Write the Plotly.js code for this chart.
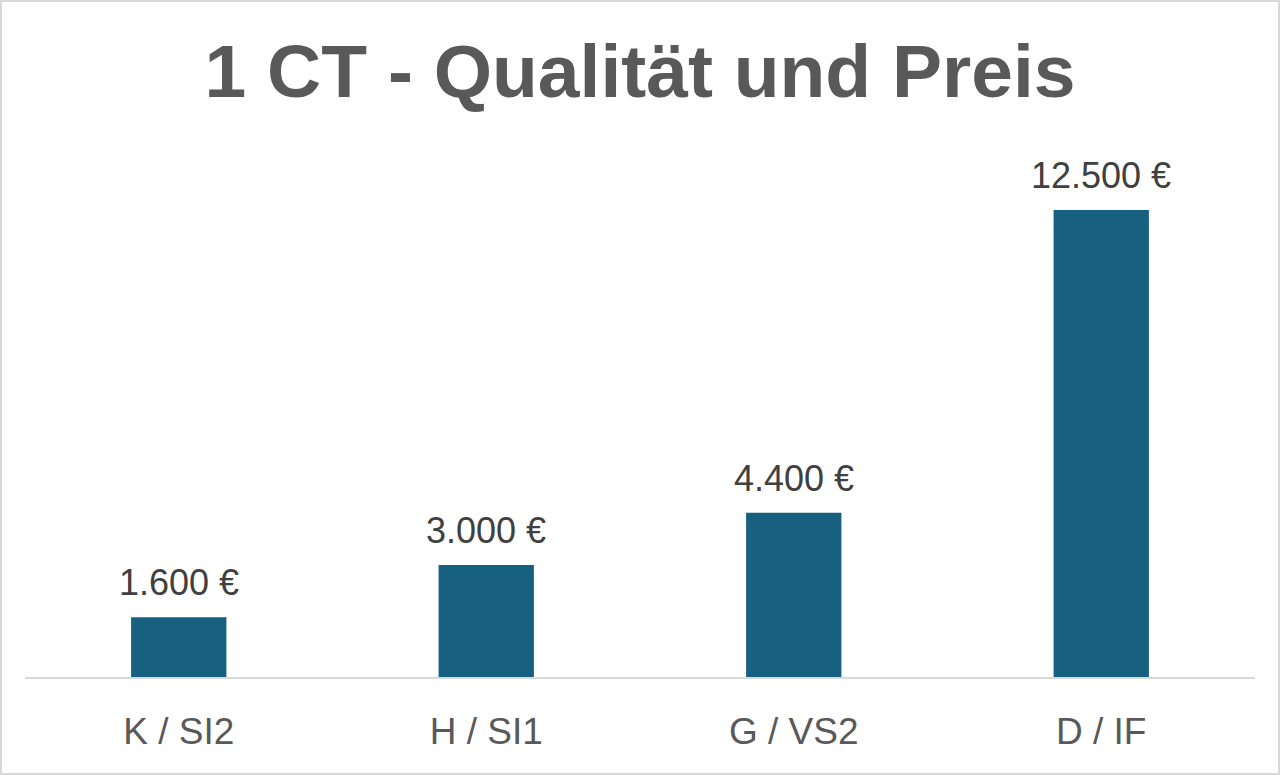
<!DOCTYPE html>
<html>
<head>
<meta charset="utf-8">
<script src="https://cdn.plot.ly/plotly-3.0.1.min.js"></script>
<style>
  html, body { margin: 0; padding: 0; background: #fff; }
  #chart { width: 1280px; height: 775px; box-sizing: border-box; border: 2px solid #d9d9d9; }
</style>
</head>
<body>
<div id="chart"></div>
<script>
// categories and prices (EUR) for 1 ct
let qualities = ["K / SI2", "H / SI1", "G / VS2", "D / IF"];
let prices = [1600, 3000, 4400, 12500];
let priceLabels = ["1.600 €", "3.000 €", "4.400 €", "12.500 €"];

let font = "Liberation Sans, Arial, sans-serif";

let trace = {
  x: qualities,
  y: prices,
  type: "bar",
  marker: { color: "#17607f" },
  hoverinfo: "skip",
};

// value labels above the bars
let labels = [];
for (let i = 0; i < qualities.length; i++) {
  labels.push({
    x: qualities[i],
    y: prices[i],
    xref: "x",
    yref: "y",
    text: priceLabels[i],
    showarrow: false,
    yanchor: "bottom",
    yshift: 12,
    font: { family: font, size: 36, color: "#404040" },
  });
}

let layout = {
  width: 1276,
  height: 771,
  paper_bgcolor: "#ffffff",
  plot_bgcolor: "#ffffff",
  title: {
    text: "<b>1 CT - Qualität und Preis</b>",
    font: { family: font, size: 75, color: "#595959" },
    x: 0.5,
    xanchor: "center",
    y: 0.945,
    yanchor: "top",
  },
  xaxis: {
    showgrid: false,
    showline: true,
    linecolor: "#d9d9d9",
    linewidth: 1.5,
    ticks: "",
    ticklabelstandoff: 21,
    tickfont: { family: font, size: 37, color: "#595959" },
    fixedrange: true,
  },
  yaxis: {
    visible: false,
    range: [0, 14000],
    fixedrange: true,
  },
  annotations: labels,
  bargap: 0.69,
  margin: { l: 23, r: 23, t: 152, b: 96 },
  showlegend: false,
};

Plotly.newPlot("chart", [trace], layout, { displayModeBar: false, staticPlot: true });
</script>
</body>
</html>
